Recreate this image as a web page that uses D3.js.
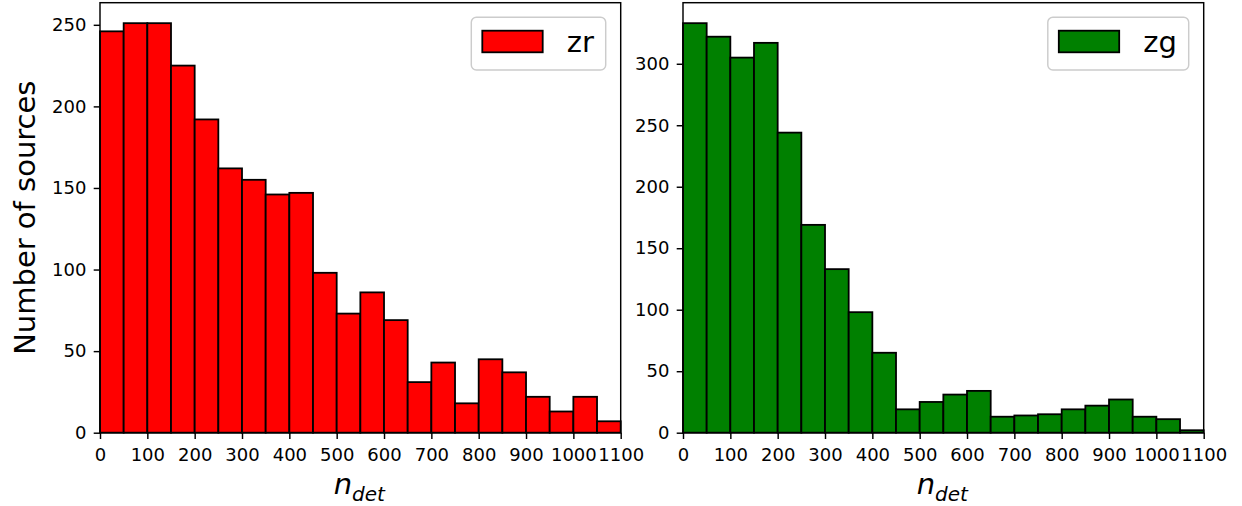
<!DOCTYPE html>
<html>
<head>
<meta charset="utf-8">
<script src="https://cdn.jsdelivr.net/npm/d3@7"></script>
<style>
  html, body { margin: 0; padding: 0; background: #fff; }
  svg { display: block; font-family: "DejaVu Sans", sans-serif; }
</style>
</head>
<body>
<svg id="chart" width="1242" height="506"></svg>
<script>
// Histogram bin edges (n_det), 50-wide bins from 0 to 1100
const binEdges = [0, 50, 100, 150, 200, 250, 300, 350, 400, 450, 500, 550,
                  600, 650, 700, 750, 800, 850, 900, 950, 1000, 1050, 1100];

// Source counts per bin, zr band
const zrCounts = [246, 251, 251, 225, 192, 162, 155, 146, 147, 98, 73,
                  86, 69, 31, 43, 18, 45, 37, 22, 13, 22, 7];

// Source counts per bin, zg band
const zgCounts = [333, 322, 305, 317, 244, 169, 133, 98, 65, 19, 25,
                  31, 34, 13, 14, 15, 19, 22, 27, 13, 11, 2];

const xTicks = [0, 100, 200, 300, 400, 500, 600, 700, 800, 900, 1000, 1100];
const zrYTicks = [0, 50, 100, 150, 200, 250];
const zgYTicks = [0, 50, 100, 150, 200, 250, 300];

const svg = d3.select("#chart");

const plotTop = 2.7, plotBottom = 432.7;
const panels = [
  { left: 100, right: 620.7, counts: zrCounts, yTicks: zrYTicks, color: "#ff0000", label: "zr", yLabel: true },
  { left: 683, right: 1203.7, counts: zgCounts, yTicks: zgYTicks, color: "#008000", label: "zg", yLabel: false }
];

panels.forEach(p => {
  const g = svg.append("g");
  const x = d3.scaleLinear().domain([0, 1100]).range([p.left, p.right]);
  const yMax = d3.max(p.counts) * 1.05;
  const y = d3.scaleLinear().domain([0, yMax]).range([plotBottom, plotTop]);

  const bins = p.counts.map((c, i) => ({ x0: binEdges[i], x1: binEdges[i + 1], count: c }));

  // bars
  g.append("g").selectAll("rect").data(bins).join("rect")
    .attr("x", d => x(d.x0))
    .attr("width", d => x(d.x1) - x(d.x0))
    .attr("y", d => y(d.count))
    .attr("height", d => y(0) - y(d.count))
    .attr("fill", p.color)
    .attr("stroke", "#000")
    .attr("stroke-width", 1.8);

  // frame
  g.append("rect")
    .attr("x", p.left).attr("y", plotTop)
    .attr("width", p.right - p.left).attr("height", plotBottom - plotTop)
    .attr("fill", "none").attr("stroke", "#000").attr("stroke-width", 1.45);

  // x axis
  const xAxis = g.append("g").attr("transform", `translate(0,${plotBottom})`)
    .call(d3.axisBottom(x).tickValues(xTicks).tickFormat(d3.format("d"))
      .tickSize(6.3).tickPadding(9));
  // y axis
  const yAxis = g.append("g").attr("transform", `translate(${p.left},0)`)
    .call(d3.axisLeft(y).tickValues(p.yTicks).tickFormat(d3.format("d"))
      .tickSize(6.3).tickPadding(7.3));

  [xAxis, yAxis].forEach(a => {
    a.select(".domain").remove();
    a.selectAll(".tick line").attr("stroke", "#000").attr("stroke-width", 1.45);
    a.selectAll(".tick text")
      .attr("fill", "#000")
      .style("font-family", "'DejaVu Sans', sans-serif")
      .style("font-size", "18px");
  });

  // x label: n_det
  const cx = (p.left + p.right) / 2;
  const xl = g.append("text")
    .attr("x", cx - 1).attr("y", 493.5)
    .attr("text-anchor", "middle")
    .style("font-family", "'DejaVu Sans', sans-serif")
    .style("font-style", "italic")
    .attr("fill", "#000");
  xl.append("tspan").style("font-size", "29px").text("n");
  xl.append("tspan").style("font-size", "20px").attr("dy", 7).text("det");

  // y label
  if (p.yLabel) {
    g.append("text")
      .attr("transform", `translate(35,${(plotTop + plotBottom) / 2}) rotate(-90)`)
      .attr("text-anchor", "middle")
      .style("font-family", "'DejaVu Sans', sans-serif")
      .style("font-size", "29px")
      .attr("fill", "#000")
      .text("Number of sources");
  }

  // legend
  const labelW = p.label === "zg" ? 34 : 27.5;
  const legW = 11 + 60.4 + 24 + labelW + 11.5;
  const legX = p.right - 15 - legW, legY = plotTop + 14.6;
  const leg = g.append("g").attr("transform", `translate(${legX},${legY})`);
  leg.append("rect")
    .attr("x", 0).attr("y", 0).attr("width", legW).attr("height", 52.7)
    .attr("rx", 5).attr("ry", 5)
    .attr("fill", "#fff").attr("fill-opacity", 0.8)
    .attr("stroke", "#cccccc").attr("stroke-width", 1.45);
  leg.append("rect")
    .attr("x", 11).attr("y", 13.4).attr("width", 60.4).attr("height", 21.6)
    .attr("fill", p.color).attr("stroke", "#000").attr("stroke-width", 1.8);
  leg.append("text")
    .attr("x", 11 + 60.4 + 24).attr("y", 35)
    .style("font-family", "'DejaVu Sans', sans-serif")
    .style("font-size", "29px")
    .attr("fill", "#000")
    .text(p.label);
});
</script>
</body>
</html>
